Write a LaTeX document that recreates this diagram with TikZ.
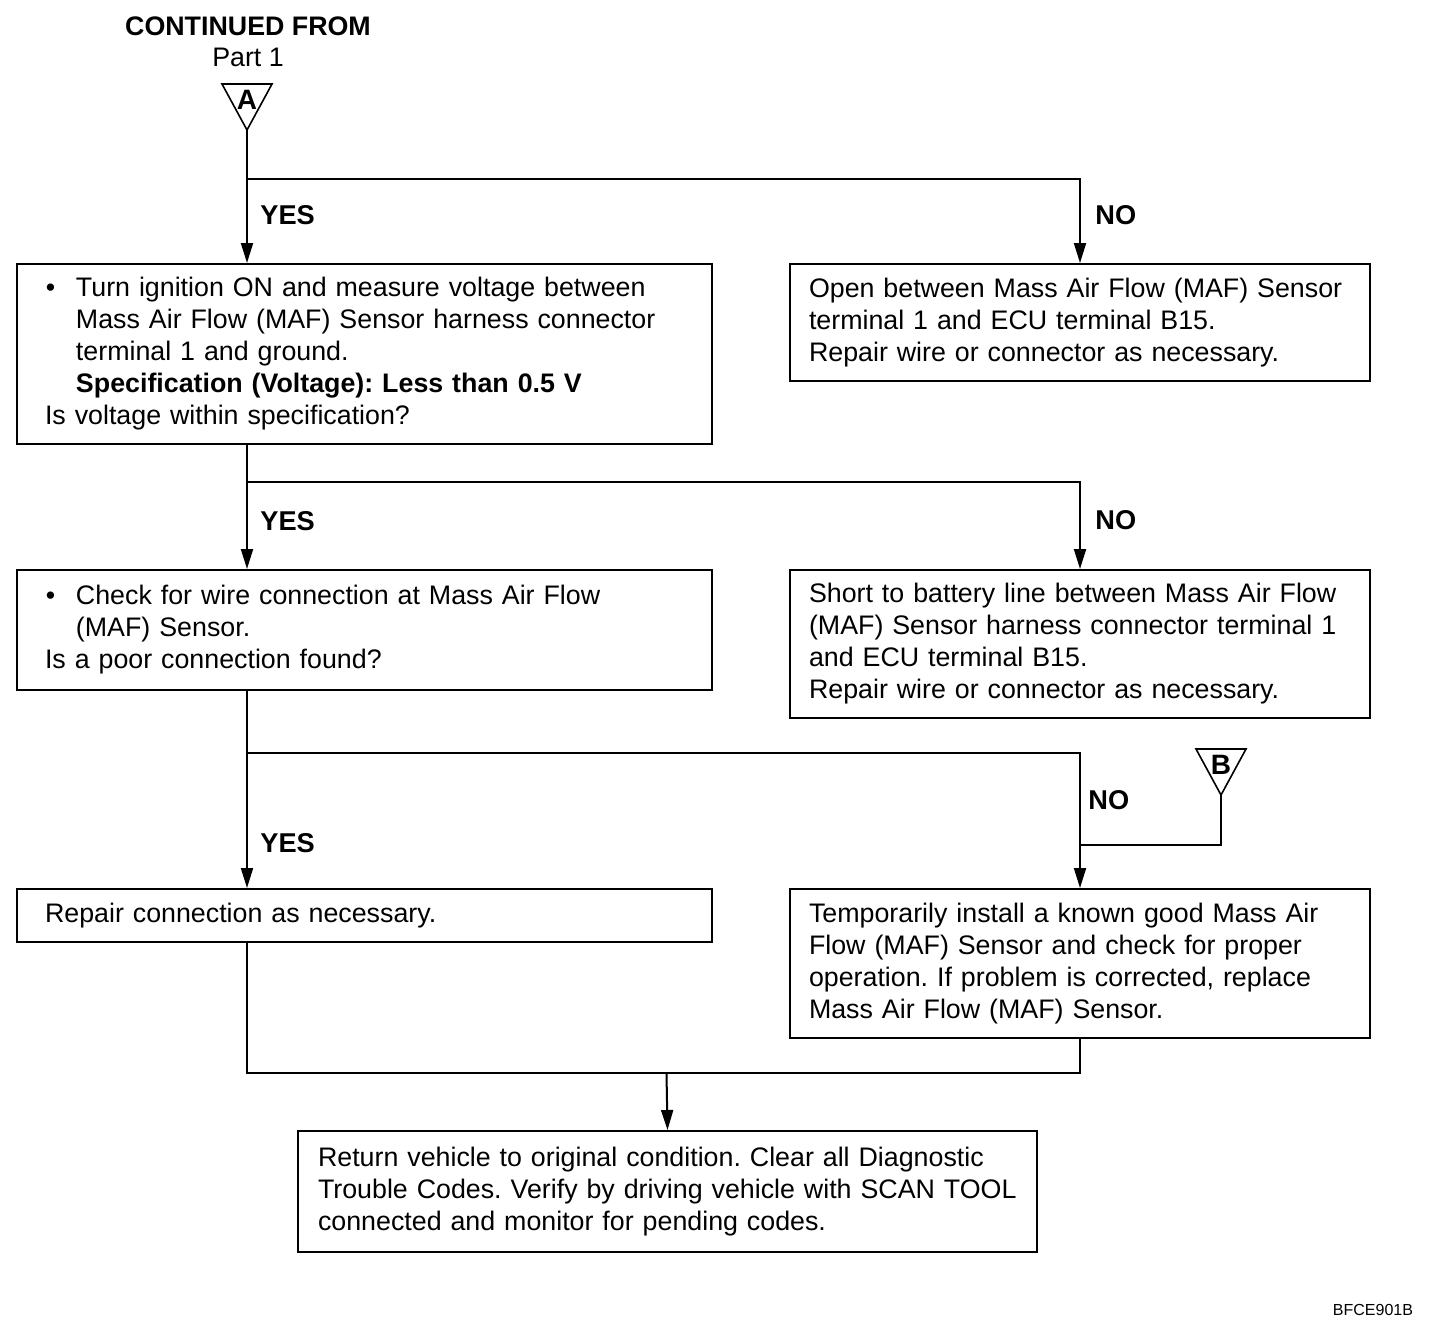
\documentclass[tikz,border=0pt]{standalone}
\usepackage{fontspec}
\setmainfont{Liberation Sans}
\usetikzlibrary{arrows.meta}
\usetikzlibrary{calc}
\newcommand{\offpage}[3]{\coordinate (#1) at ( #2 , #3 ); \draw[line width=0.8pt] (#1) -- ( #2 - 25 , #3 - 46 ) -- ( #2 + 25 , #3 - 46 ) -- cycle; \node[font=\bfseries\fontsize{14}{14}\selectfont, inner sep=0pt] (#1 label) at ( #2 , #3 - 30 ) {#1};}
\newcommand{\dotitem}{\makebox[15.5pt][l]{\hspace{0.5pt}\textbullet}}
\newcommand{\indentline}{\hspace*{15.5pt}}
\tikzset{
  box/.style={draw, line width=1pt, anchor=north west, align=left, inner ysep=0pt, font=\fontsize{13.4}{16}\selectfont},
  flow/.style={line width=1pt, -{Triangle[width=6pt,length=10pt]}},
  link/.style={line width=1pt},
  answer/.style={anchor=west, inner sep=0pt, font=\bfseries\fontsize{13.6}{16}\selectfont}
}
\begin{document}
\frenchspacing
\begin{tikzpicture}[x=0.5pt,y=-0.5pt]
    \useasboundingbox (0,0) rectangle (1456,1328);
    % head
    \node[font=\bfseries\fontsize{13.4}{16}\selectfont, inner sep=0pt] (contd) at (248,26) {CONTINUED FROM};
    \node[font=\fontsize{13.4}{16}\selectfont, inner sep=0pt] (part) at (248,57) {Part 1};
    \offpage{A}{247}{130}
    \offpage{B}{1221}{795}
    % boxes
    \node[box, minimum width=347.5pt, minimum height=90pt, text width=319.5pt, inner xsep=14pt] (volt) at (16,263)
        {\dotitem Turn ignition ON and measure voltage between\\
         \indentline Mass Air Flow (MAF) Sensor harness connector\\
         \indentline terminal 1 and ground.\\
         \indentline\textbf{Specification (Voltage): Less than 0.5 V}\\
         Is voltage within specification?};
    \node[box, minimum width=290pt, minimum height=58.5pt, text width=271pt, inner xsep=9.5pt] (openckt) at (789,263)
        {Open between Mass Air Flow (MAF) Sensor\\
         terminal 1 and ECU terminal B15.\\
         Repair wire or connector as necessary.};
    \node[box, minimum width=347.5pt, minimum height=60pt, text width=319.5pt, inner xsep=14pt] (conn) at (16,569)
        {\dotitem Check for wire connection at Mass Air Flow\\
         \indentline (MAF) Sensor.\\
         Is a poor connection found?};
    \node[box, minimum width=290pt, minimum height=74pt, text width=271pt, inner xsep=9.5pt] (short) at (789,569)
        {Short to battery line between Mass Air Flow\\
         (MAF) Sensor harness connector terminal 1\\
         and ECU terminal B15.\\
         Repair wire or connector as necessary.};
    \node[box, minimum width=347.5pt, minimum height=26.5pt, text width=319.5pt, inner xsep=14pt] (repair) at (16,888)
        {Repair connection as necessary.};
    \node[box, minimum width=290pt, minimum height=74.5pt, text width=271pt, inner xsep=9.5pt] (swap) at (789,888)
        {Temporarily install a known good Mass Air\\
         Flow (MAF) Sensor and check for proper\\
         operation. If problem is corrected, replace\\
         Mass Air Flow (MAF) Sensor.};
    \node[box, minimum width=369.5pt, minimum height=60.5pt, text width=353.5pt, inner xsep=8pt] (finish) at (297,1130)
        {\hspace*{2pt}Return vehicle to original condition. Clear all Diagnostic\\
         \hspace*{2pt}Trouble Codes. Verify by driving vehicle with SCAN TOOL\\
         \hspace*{2pt}connected and monitor for pending codes.};
    % branch points
    \coordinate (split1) at (247,179);
    \coordinate (split2) at (247,482);
    \coordinate (split3) at (247,753);
    \coordinate (merge) at (1079,845);
    \coordinate (join) at (666.5,1073);
    % lines
    \draw[flow] (A) -- (A |- volt.north);
    \draw[flow] (split1) -| (openckt.north);
    \draw[flow] (volt.south -| A) -- (conn.north -| A);
    \draw[flow] (split2) -| (short.north);
    \draw[flow] (conn.south -| A) -- (repair.north -| A);
    \draw[flow] (split3) -| (swap.north);
    \draw[link] (B) |- (merge);
    \draw[link] (repair.south -| A) |- (join) -| (swap.south);
    \draw[flow] (join) -- (finish.north);
    % answers
    \node[answer] (yes1) at (260,215) {YES};
    \node[answer] (no1) at (1095,215) {NO};
    \node[answer] (yes2) at (260,521) {YES};
    \node[answer] (no2) at (1095,520) {NO};
    \node[answer] (yes3) at (260,843) {YES};
    \node[answer] (no3) at (1088,800) {NO};
    % figure code
    \node[font=\fontsize{8}{8}\selectfont, inner sep=0pt] (figcode) at (1373,1310) {BFCE901B};
\end{tikzpicture}
\end{document}
